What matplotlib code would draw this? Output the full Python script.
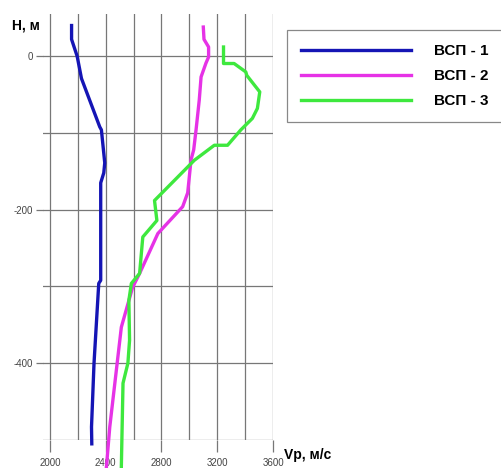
import matplotlib
matplotlib.use('Agg')
import matplotlib.pyplot as plt
from matplotlib.ticker import MultipleLocator

plt.rcParams['font.family'] = ['Liberation Sans', 'DejaVu Sans']
plt.rcParams['axes.unicode_minus'] = False

# ВСП - 1
vp1 = [2155, 2155, 2195, 2226, 2357, 2369, 2393, 2386, 2364, 2364, 2350, 2316, 2298, 2300]
h1 = [40, 22, 0, -29, -92, -96, -139, -152, -165, -292, -296, -400, -483, -505]

# ВСП - 2
vp2 = [3100, 3105, 3138, 3138, 3119, 3084, 3071, 3048, 3031, 3012, 2988, 2952, 2774,
       2643, 2593, 2512, 2429, 2405]
h2 = [38, 22, 12, -1, -9, -27, -57, -96, -122, -135, -178, -196, -231,
      -283, -301, -353, -483, -535]

# ВСП - 3
vp3 = [3245, 3245, 3321, 3405, 3412, 3505, 3488, 3452, 3369, 3274, 3179, 3036, 2750,
       2767, 2666, 2643, 2584, 2566, 2571, 2559, 2524, 2512]
h3 = [12, -9.5, -9.5, -20.5, -25, -46.5, -68, -81, -96, -116, -116, -135.5, -188,
      -214, -235.5, -283, -296, -318, -370, -400, -426, -535]

labels = ['ВСП - 1', 'ВСП - 2', 'ВСП - 3']
colors = ['#1515b5', '#e632e6', '#3ee83e']

W, H = 501, 468
fig = plt.figure(figsize=(W / 100, H / 100), dpi=100)
ax = fig.add_axes([43 / W, 1 - 440 / H, (273 - 43) / W, (440 - 14) / H])

for vp, h, lab, c in zip([vp1, vp2, vp3], [h1, h2, h3], labels, colors):
    ax.plot(vp, h, color=c, lw=2.4, label=lab, clip_on=False, zorder=3)

ax.set_xlim(1950, 3600)
ax.set_ylim(-500, 55)
ax.xaxis.set_major_locator(MultipleLocator(400))
ax.xaxis.set_minor_locator(MultipleLocator(200))
ax.set_yticks([-400, -200, 0])
ax.set_yticks([-500, -300, -100], minor=True)
ax.set_xticks([2000, 2400, 2800, 3200, 3600])

for s in ax.spines.values():
    s.set_visible(False)

ax.grid(True, which='both', color='#777777', lw=0.9)
ax.tick_params(axis='y', which='major', length=5, width=0.9, color='#777777',
               labelsize=7, labelcolor='#444444', pad=2)
ax.tick_params(axis='x', which='major', length=8.6, width=0.9, color='#777777',
               labelsize=7, labelcolor='#444444', pad=4)
ax.tick_params(which='minor', length=0)

fig.text(12 / W, 1 - 25 / H, 'H, м', fontsize=10, fontweight='bold', va='center', ha='left')
fig.text(284 / W, 1 - 455 / H, 'Vp, м/с', fontsize=10, fontweight='bold', va='center', ha='left')

leg = fig.legend(loc='upper left', bbox_to_anchor=(287 / W, 1 - 30 / H),
                 prop={'weight': 'bold', 'size': 11},
                 handlelength=7.2, handletextpad=1.5, borderpad=0.92,
                 labelspacing=0.72, fancybox=False, framealpha=1,
                 edgecolor='#888888', borderaxespad=0)
leg.get_frame().set_linewidth(0.9)

fig.savefig('out.png', dpi=100)
